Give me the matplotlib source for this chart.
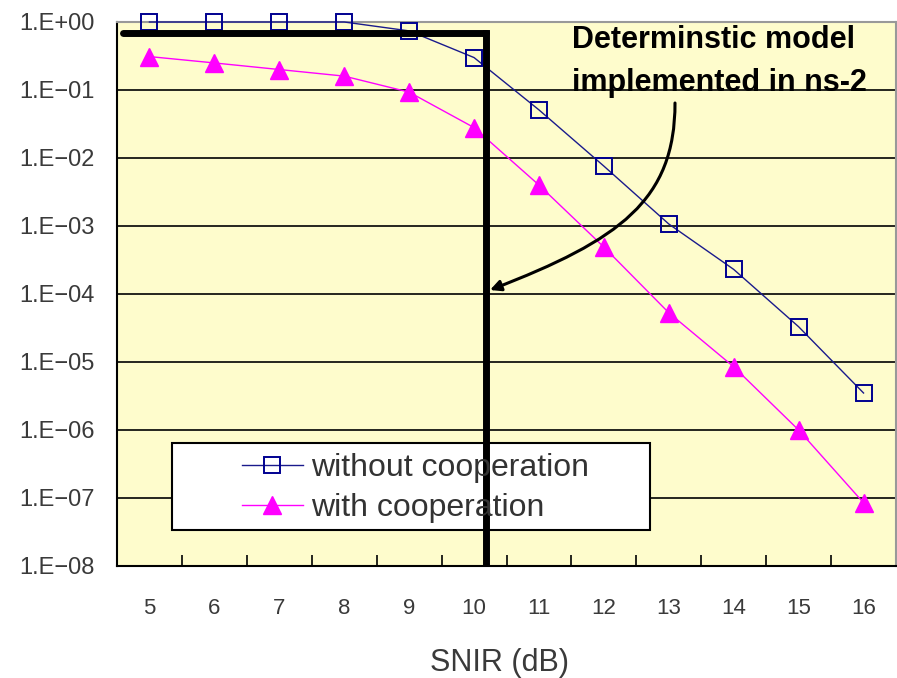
import matplotlib
matplotlib.use("Agg")
import matplotlib.pyplot as plt
from matplotlib.patches import Rectangle, FancyArrowPatch
from matplotlib.path import Path
import numpy as np

snir = [5, 6, 7, 8, 9, 10, 11, 12, 13, 14, 15, 16]
without_coop = [1.0, 1.0, 1.0, 1.0, 0.74, 0.30, 0.051, 0.0076, 1.07e-3, 2.3e-4, 3.3e-5, 3.5e-6]
with_coop = [0.31, 0.25, 0.20, 0.16, 0.093, 0.028, 4.0e-3, 4.9e-4, 5.3e-5, 8.5e-6, 1.0e-6, 8.5e-8]
ytick_vals = [1e0, 1e-1, 1e-2, 1e-3, 1e-4, 1e-5, 1e-6, 1e-7, 1e-8]
ytick_labels = ["1.E+00", "1.E\u221201", "1.E\u221202", "1.E\u221203", "1.E\u221204",
                "1.E\u221205", "1.E\u221206", "1.E\u221207", "1.E\u221208"]
threshold_snir_pos = 5.18   # position of the deterministic threshold (between 10 and 11)
threshold_level = 0.69

plt.rcParams['font.family'] = ['Liberation Sans', 'DejaVu Sans']

W, H = 897, 678
fig = plt.figure(figsize=(W/100, H/100), dpi=100)
ax = fig.add_axes([117/W, 1-566/H, 779/W, 544/H])
ax.set_facecolor('#FEFCCC')

idx = np.arange(len(snir))
ax.set_yscale('log')
ax.set_ylim(1e-8, 1e0)
ax.set_xlim(-0.5, len(snir) - 0.5)

for v in ytick_vals[1:-1]:
    ax.axhline(v, color='black', lw=1.2, zorder=1)

# legend box (white rectangle)
ax.add_patch(Rectangle((172/W, 1-530/H), (650-172)/W, 87/H, transform=fig.transFigure,
                       facecolor='white', edgecolor='black', lw=1.5, zorder=1.5))

l1, = ax.plot(idx, without_coop, color='#1A1A8C', lw=1.0, marker='s', ms=11,
              mfc='none', mec='#000090', mew=1.4, label='without cooperation', zorder=3, clip_on=False)
l2, = ax.plot(idx, with_coop, color='#FF00FF', lw=1.0, marker='^', ms=13,
              mfc='#FF00FF', mec='#FF00FF', label='with cooperation', zorder=3, clip_on=False)

# thick black deterministic model line
ax.plot([-0.41, threshold_snir_pos], [threshold_level, threshold_level], color='black', lw=5,
        solid_capstyle='round', zorder=4)
ax.plot([threshold_snir_pos, threshold_snir_pos], [threshold_level, 1e-8], color='black', lw=5, zorder=4)

ax.set_yticks(ytick_vals)
ax.set_yticklabels(ytick_labels)
ax.yaxis.set_minor_locator(matplotlib.ticker.NullLocator())
ax.tick_params(axis='y', which='major', length=0, labelsize=17, labelcolor='#3a3a3a', pad=16)

ax.set_xticks(idx)
ax.set_xticklabels([str(s) for s in snir])
ax.set_xticks(idx[:-1] + 0.5, minor=True)
ax.tick_params(axis='x', which='major', length=0, labelsize=16, labelcolor='#3a3a3a', pad=23)
ax.tick_params(axis='x', which='minor', direction='in', length=8, width=1.2, color='black')

ax.set_xlabel('SNIR (dB)', fontsize=22, color='#3a3a3a', labelpad=22)
ax.xaxis.set_label_coords((499-117)/779, -(663-566)/544)
ax.xaxis.label.set_va('center')

for s in ['left', 'bottom']:
    ax.spines[s].set_color('black')
    ax.spines[s].set_linewidth(1.5)
for s in ['top', 'right']:
    ax.spines[s].set_color('#999999')
    ax.spines[s].set_linewidth(1.5)

leg = fig.legend(handles=[l1, l2], loc='upper left', bbox_to_anchor=(242/W, 1-453/H),
                 fontsize=23, frameon=False, handlelength=1.9, borderpad=0, borderaxespad=0,
                 labelspacing=0.32, handletextpad=0.25)
for t in leg.get_texts():
    t.set_color('#333333')

fig.text(572/W, 1-25/H, 'Determinstic model\nimplemented in ns-2', ha='left', va='top',
         fontsize=22, fontweight='bold', linespacing=1.55, zorder=5)

pts = [(675, 103), (675, 200), (620, 240), (490, 290)]
path = Path([(x/W, 1-y/H) for x, y in pts],
            [Path.MOVETO, Path.CURVE4, Path.CURVE4, Path.CURVE4])
arrow = FancyArrowPatch(path=path, arrowstyle='-|>', mutation_scale=16, color='black', lw=2.2,
                        transform=fig.transFigure, zorder=6)
fig.add_artist(arrow)

fig.savefig('out.png', dpi=100)
